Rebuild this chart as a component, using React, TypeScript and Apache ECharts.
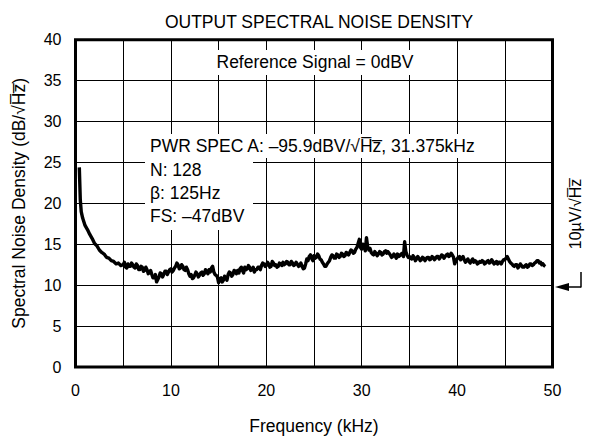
import React, { useEffect, useRef } from "react";
import * as echarts from "echarts";

const TITLE = "OUTPUT SPECTRAL NOISE DENSITY";
const X_NAME = "Frequency (kHz)";
const Y_NAME = "Spectral Noise Density (dB/\u221AH\u0305z\u0305)";
const xTicks = [0, 10, 20, 30, 40, 50];
const yTicks = [0, 5, 10, 15, 20, 25, 30, 35, 40];

// sampled frequencies (kHz)
const freqKHz = [
  0.4, 0.5, 0.6, 0.75, 1, 1.25, 1.5, 1.75, 2, 2.25, 2.5, 2.75, 3, 3.25, 3.5, 3.75, 4, 4.25, 4.5, 4.75,
  5, 5.25, 5.5, 5.75, 6, 6.25, 6.5, 6.75, 7, 7.25, 7.5, 7.75,
  8, 8.25, 8.5, 8.75, 9, 9.25, 9.5, 9.75, 10, 10.25, 10.5, 10.75, 11, 11.25, 11.5, 11.75,
  12, 12.25, 12.5, 12.75, 13, 13.25, 13.5, 13.75, 14, 14.25, 14.5, 14.75, 15, 15.25, 15.5, 15.75,
  16, 16.25, 16.5, 16.75, 17, 17.25, 17.5, 17.75, 18, 18.25, 18.5, 18.75, 19, 19.25, 19.5, 19.75,
  20, 20.25, 20.5, 20.75, 21, 21.25, 21.5, 21.75, 22, 22.25, 22.5, 22.75, 23, 23.25, 23.5, 23.75,
  24, 24.25, 24.5, 24.75, 25, 25.25, 25.5, 25.75, 26, 26.25, 26.5, 26.75, 27, 27.25, 27.5, 27.75,
  28, 28.25, 28.5, 28.75, 29, 29.25, 29.5, 29.75, 30, 30.25, 30.5, 30.75, 31, 31.25, 31.5, 31.75,
  32, 32.25, 32.5, 32.75, 33, 33.25, 33.5, 33.75, 34, 34.25, 34.5, 34.75, 35, 35.25, 35.5, 35.75,
  36, 36.25, 36.5, 36.75, 37, 37.25, 37.5, 37.75, 38, 38.25, 38.5, 38.75, 39, 39.25, 39.5, 39.75,
  40, 40.25, 40.5, 40.75, 41, 41.25, 41.5, 41.75, 42, 42.25, 42.5, 42.75, 43, 43.25, 43.5, 43.75,
  44, 44.25, 44.5, 44.75, 45, 45.25, 45.5, 45.75, 46, 46.25, 46.5, 46.75, 47, 47.25, 47.5, 47.75,
  48, 48.25, 48.5, 48.75, 49, 49.25,
];

// density (dB) at freqKHz
const densityDB = [
  24.4, 20.5, 19.0, 18.2, 17.3, 16.8, 16.2, 15.7, 15.1, 14.8, 14.3, 14.0, 13.8, 13.4, 13.3, 13.0, 12.9, 12.6, 12.7, 12.4,
  12.5, 12.2, 12.6, 12.3, 12.5, 12.1, 12.4, 11.9, 12.2, 11.8, 11.9, 11.5,
  11.3, 10.9, 10.4, 11.0, 11.4, 11.3, 11.7, 11.6, 12.0, 11.8, 12.3, 12.5, 12.1, 12.3, 11.8, 11.9,
  11.1, 10.8, 11.2, 11.4, 11.2, 11.6, 11.4, 11.7, 11.9, 12.1, 11.6, 11.2, 10.3, 10.9, 10.6, 10.9,
  11.3, 11.5, 11.3, 11.7, 11.8, 12.0, 11.8, 12.2, 12.0, 12.2, 11.9, 11.6, 11.9, 12.2, 12.4, 12.6,
  12.4, 12.6, 12.3, 12.7, 12.5, 12.3, 12.6, 12.8, 12.6, 12.8, 12.5, 12.7, 12.5, 12.6, 12.4, 12.3,
  12.1, 13.2, 13.5, 13.3, 13.6, 13.4, 13.6, 13.1, 12.6, 12.3, 12.8, 13.4, 13.6, 13.3, 13.7, 13.5,
  13.8, 13.6, 13.9, 14.0, 14.2, 14.0, 14.6, 15.6, 14.4, 14.8, 15.8, 14.3, 14.0, 13.7, 13.9, 13.8,
  14.0, 13.8, 14.2, 14.1, 13.7, 13.5, 13.6, 13.8, 13.6, 13.9, 15.3, 13.7, 13.5, 13.2, 13.4, 13.2,
  13.3, 13.1, 13.3, 13.2, 13.4, 13.2, 13.4, 13.3, 13.5, 13.4, 13.6, 13.5, 13.8, 13.6, 13.7, 12.6,
  13.2, 13.5, 13.3, 13.1, 13.0, 12.9, 13.0, 12.8, 12.9, 12.7, 12.8, 12.9, 12.7, 13.0, 12.8, 12.9,
  12.7, 12.6, 12.8, 12.9, 13.1, 13.5, 12.9, 12.6, 12.3, 12.5, 12.3, 12.4, 12.2, 12.5, 12.3, 12.6,
  12.5, 12.8, 13.0, 12.8, 12.6, 12.3,
];

// density (dB) read halfway between successive samples from 5 kHz to 49 kHz
const midDensityDB = [
  12.8, 12.1, 12.3, 12.7, 12.2, 12.6, 11.9, 12.3, 11.7, 12.2, 11.4, 11.8,
  10.9, 11.3, 10.7, 11.5, 11.0, 11.7, 11.3, 11.9, 11.6, 12.1, 12.7, 12.0, 12.5, 11.9, 12.2, 11.4,
  11.3, 10.9, 11.6, 11.0, 11.5, 11.2, 11.9, 11.4, 11.6, 12.3, 11.3, 11.0, 10.8, 10.4, 11.1, 10.6,
  11.6, 11.1, 11.8, 11.4, 11.5, 12.2, 11.5, 11.9, 12.4, 11.8, 12.2, 11.9, 12.2, 11.9, 12.7, 12.3,
  12.8, 12.2, 12.9, 12.4, 12.2, 12.7, 12.4, 12.5, 12.9, 12.5, 12.9, 12.4, 12.8, 12.3, 12.7, 12.0,
  12.6, 13.0, 13.7, 13.0, 13.3, 13.8, 13.2, 12.8, 12.3, 12.6, 13.0, 13.7, 13.3, 13.8, 13.4, 13.9,
  13.5, 14.0, 13.7, 14.3, 13.9, 14.4, 15.1, 14.6, 15.0, 14.2, 14.7, 14.5, 13.8, 14.1, 13.6, 14.1,
  13.7, 14.1, 13.9, 13.9, 13.4, 13.8, 13.3, 13.5, 13.8, 13.5, 14.1, 13.4, 13.3, 13.6, 13.0, 13.5,
  13.0, 13.4, 13.0, 13.4, 13.1, 13.5, 13.1, 13.5, 13.2, 13.7, 13.3, 13.7, 13.5, 13.9, 13.4, 13.0,
  13.4, 13.1, 13.5, 12.8, 13.2, 12.7, 13.2, 13.0, 12.6, 12.9, 13.0, 12.6, 12.9, 12.7, 13.1, 12.6,
  12.9, 12.8, 12.6, 13.1, 13.3, 13.2, 12.7, 12.4, 12.5, 12.1, 12.6, 12.2, 12.4, 12.2, 12.6, 12.4,
  12.7, 13.0, 12.7, 12.5, 12.4,
];
const MID_START_KHZ = 5;

const REF_TEXT = "Reference Signal = 0dBV";
const SPEC_LINES = [
  "PWR SPEC A: \u201395.9dBV/\u221AH\u0305z\u0305, 31.375kHz",
  "N: 128",
  "\u03B2: 125Hz",
  "FS: \u201347dBV",
];
const RIGHT_LABEL = "10\u00B5V/\u221AH\u0305z\u0305";

const FONT = "'Liberation Sans', Arial, Helvetica, sans-serif";

function buildTrace(): number[][] {
  const out: number[][] = [];
  let m = 0;
  for (let i = 0; i < freqKHz.length; i++) {
    out.push([freqKHz[i], densityDB[i]]);
    if (freqKHz[i] >= MID_START_KHZ && i + 1 < freqKHz.length && m < midDensityDB.length) {
      out.push([(freqKHz[i] + freqKHz[i + 1]) / 2, midDensityDB[m]]);
      m++;
    }
  }
  return out;
}

export default function App() {
  const ref = useRef<HTMLDivElement>(null);
  useEffect(() => {
    if (!ref.current) return;
    const chart = echarts.init(ref.current, null, { renderer: "svg" });
    const txt = { fontFamily: FONT, fontSize: 17.5, fill: "#000" };
    chart.setOption({
      animation: false,
      backgroundColor: "#fff",
      title: {
        text: TITLE,
        left: 314,
        top: 8,
        textAlign: "center",
        textStyle: { fontFamily: FONT, fontSize: 17.5, fontWeight: "normal", color: "#000" },
      },
      grid: {
        left: 75.5,
        right: 39.5,
        top: 39.7,
        bottom: 69.5,
        show: true,
        borderColor: "#000",
        borderWidth: 3,
        backgroundColor: "transparent",
      },
      xAxis: {
        type: "value",
        min: 0,
        max: 50,
        interval: 5,
        name: X_NAME,
        nameLocation: "middle",
        nameGap: 50,
        nameTextStyle: { fontFamily: FONT, fontSize: 17.5, color: "#000" },
        axisLine: { show: false },
        axisTick: { show: false },
        axisLabel: {
          margin: 15,
          fontFamily: FONT,
          fontSize: 16,
          color: "#000",
          formatter: (v: number) => (xTicks.includes(v) ? String(v) : ""),
        },
        splitLine: { show: true, lineStyle: { color: "#000", width: 1 } },
      },
      yAxis: {
        type: "value",
        min: 0,
        max: 40,
        interval: 5,
        name: Y_NAME,
        nameLocation: "middle",
        nameGap: 48,
        nameRotate: 90,
        nameTextStyle: { fontFamily: FONT, fontSize: 17.5, color: "#000" },
        axisLine: { show: false },
        axisTick: { show: false },
        axisLabel: {
          margin: 14,
          fontFamily: FONT,
          fontSize: 16,
          color: "#000",
          formatter: (v: number) => (yTicks.includes(v) ? String(v) : ""),
        },
        splitLine: { show: true, lineStyle: { color: "#000", width: 1 } },
      },
      series: [
        {
          type: "line",
          data: buildTrace(),
          showSymbol: false,
          symbol: "none",
          lineStyle: { color: "#000", width: 3.4, join: "round" },
          z: 5,
        },
      ],
      graphic: [
        { type: "rect", z: 10, shape: { x: 205, y: 50, width: 222, height: 25 }, style: { fill: "#fff" } },
        { type: "text", z: 11, x: 315, y: 62, style: { ...txt, text: REF_TEXT, textAlign: "center", textVerticalAlign: "middle" } },
        { type: "rect", z: 10, shape: { x: 145, y: 134, width: 350, height: 24 }, style: { fill: "#fff" } },
        { type: "rect", z: 10, shape: { x: 145, y: 134, width: 108, height: 96 }, style: { fill: "#fff" } },
        { type: "text", z: 11, x: 150, y: 146, style: { ...txt, text: SPEC_LINES[0], textVerticalAlign: "middle" } },
        { type: "text", z: 11, x: 150, y: 170, style: { ...txt, text: SPEC_LINES[1], textVerticalAlign: "middle" } },
        { type: "text", z: 11, x: 150, y: 193, style: { ...txt, text: SPEC_LINES[2], textVerticalAlign: "middle" } },
        { type: "text", z: 11, x: 150, y: 216, style: { ...txt, text: SPEC_LINES[3], textVerticalAlign: "middle" } },
        {
          type: "text",
          z: 11,
          x: 575,
          y: 214,
          rotation: Math.PI / 2,
          style: { ...txt, fontSize: 16, text: RIGHT_LABEL, textAlign: "center", textVerticalAlign: "middle" },
        },
        { type: "polygon", z: 11, shape: { points: [[555, 287], [569, 283], [569, 291]] }, style: { fill: "#000" } },
        { type: "line", z: 11, shape: { x1: 568, y1: 287, x2: 581, y2: 287 }, style: { stroke: "#000", lineWidth: 1.5 } },
        { type: "line", z: 11, shape: { x1: 581, y1: 287.5, x2: 581, y2: 272 }, style: { stroke: "#000", lineWidth: 1.5 } },
      ],
    });
    return () => chart.dispose();
  }, []);
  return <div ref={ref} style={{ position: "absolute", left: 0, top: 0, width: 592, height: 440 }} />;
}
